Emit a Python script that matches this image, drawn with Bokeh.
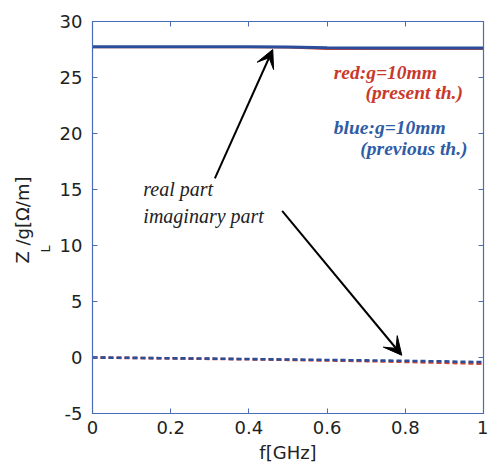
from bokeh.plotting import figure
from bokeh.models import (Range1d, LinearAxis, Label, Title, Arrow, VeeHead,
                          FixedTicker)
from bokeh.embed import file_html
from bokeh.resources import INLINE

# frequency grid [GHz]
freq = [0.0, 0.1, 0.2, 0.3, 0.4, 0.5, 0.6, 0.7, 0.8, 0.9, 1.0]

# normalised line impedance Z_L/g [Ohm/m]
real_present = [27.70, 27.70, 27.70, 27.70, 27.70, 27.68, 27.56, 27.55, 27.55, 27.55, 27.55]
real_previous = [27.74, 27.74, 27.74, 27.74, 27.74, 27.72, 27.65, 27.64, 27.64, 27.64, 27.64]
imag_present = [0.0, -0.04, -0.08, -0.12, -0.16, -0.21, -0.26, -0.32, -0.39, -0.47, -0.56]
imag_previous = [0.0, -0.03, -0.07, -0.10, -0.14, -0.18, -0.22, -0.26, -0.30, -0.35, -0.42]

x_ticks = [0, 0.2, 0.4, 0.6, 0.8, 1]
x_tick_labels = {0: "0", 0.2: "0.2", 0.4: "0.4", 0.6: "0.6", 0.8: "0.8", 1: "1"}
y_ticks = [-5, 0, 5, 10, 15, 20, 25, 30]
y_tick_labels = {-5: "-5"}

RED = "#d8442c"
BLUE = "#2a4d9c"
TXT_RED = "#c9392b"
TXT_BLUE = "#2f5ca6"
AXIS = "#4a6cb8"
TICK_FONT = "DejaVu Sans"
SERIF = "Liberation Serif"

p = figure(width=488, height=467, output_backend="svg", toolbar_location=None,
           x_range=Range1d(0, 1), y_range=Range1d(-5, 30),
           min_border_left=92, min_border_right=5, min_border_top=21,
           min_border_bottom=54, x_axis_label="f[GHz]")
p.grid.visible = False
p.outline_line_color = AXIS
p.outline_line_width = 1.2
p.background_fill_color = "white"
p.border_fill_color = "white"

for ax in (p.xaxis[0], p.yaxis[0]):
    ax.axis_line_color = AXIS
    ax.major_tick_line_color = AXIS
    ax.major_tick_in = 5
    ax.major_tick_out = 0
    ax.minor_tick_line_color = None
    ax.major_label_text_font = TICK_FONT
    ax.major_label_text_font_size = "18px"
    ax.major_label_text_color = "#222222"
    ax.axis_label_text_font = TICK_FONT
    ax.axis_label_text_font_size = "18px"
    ax.axis_label_text_font_style = "normal"
    ax.axis_label_text_color = "#222222"

p.xaxis[0].ticker = FixedTicker(ticks=x_ticks)
p.xaxis[0].major_label_overrides = x_tick_labels
p.xaxis[0].major_label_standoff = 7
p.xaxis[0].axis_label_standoff = 5
p.yaxis[0].ticker = FixedTicker(ticks=y_ticks)
p.yaxis[0].major_label_overrides = y_tick_labels
p.yaxis[0].major_label_standoff = 10

# y-axis label Z_L/g[Ω/m]: subscript first (nearer the axis), then the main text
p.add_layout(Title(text="L", align="left", offset=161, standoff=7,
                   text_font=TICK_FONT, text_font_size="12.5px",
                   text_font_style="normal", text_color="#222222"), "left")
p.add_layout(Title(text="Z /g[Ω/m]", align="left", offset=150, standoff=0,
                   text_font=TICK_FONT, text_font_size="18px",
                   text_font_style="normal", text_color="#222222"), "left")

# mirrored tick marks on the top and right edges
for side, ticks in (("above", x_ticks), ("right", y_ticks)):
    ax = LinearAxis(ticker=FixedTicker(ticks=ticks))
    ax.axis_line_color = AXIS
    ax.major_tick_line_color = AXIS
    ax.major_tick_in = 5
    ax.major_tick_out = 0
    ax.minor_tick_line_color = None
    ax.major_label_text_font_size = "0px"
    ax.major_label_standoff = 0
    p.add_layout(ax, side)

# imaginary parts (dashed)
p.line(freq, imag_present, line_color=RED, line_width=2.6, line_dash="5 3")
p.line(freq, imag_previous, line_color=BLUE, line_width=2.6, line_dash="5 3")
# real parts (solid)
p.line(freq, real_present, line_color=RED, line_width=2.2)
p.line(freq, real_previous, line_color=BLUE, line_width=3)

# annotation text
note_kw = dict(text_font=SERIF, text_font_style="italic", text_font_size="20px",
               text_color="#222222", text_baseline="alphabetic")
p.add_layout(Label(x=0.130, y=15.05, text="real part", **note_kw))
p.add_layout(Label(x=0.130, y=12.65, text="imaginary part", **note_kw))

leg_kw = dict(text_font=SERIF, text_font_style="bold italic", text_font_size="19.5px",
              text_baseline="alphabetic")
p.add_layout(Label(x=0.617, y=25.45, text="red:g=10mm", text_color=TXT_RED, **leg_kw))
p.add_layout(Label(x=0.698, y=23.66, text="(present th.)", text_color=TXT_RED, **leg_kw))
p.add_layout(Label(x=0.617, y=20.54, text="blue:g=10mm", text_color=TXT_BLUE, **leg_kw))
p.add_layout(Label(x=0.685, y=18.66, text="(previous th.)", text_color=TXT_BLUE, **leg_kw))

# arrows pointing at the real and imaginary curves
for (xs, ys, xe, ye) in ((0.313, 16.0, 0.461, 27.5), (0.485, 13.1, 0.791, 0.2)):
    p.add_layout(Arrow(x_start=xs, y_start=ys, x_end=xe, y_end=ye,
                       line_color="black", line_width=2,
                       end=VeeHead(size=18, line_color="black", fill_color="black",
                                   line_width=1)))

open("out.html", "w").write(file_html(p, INLINE))
